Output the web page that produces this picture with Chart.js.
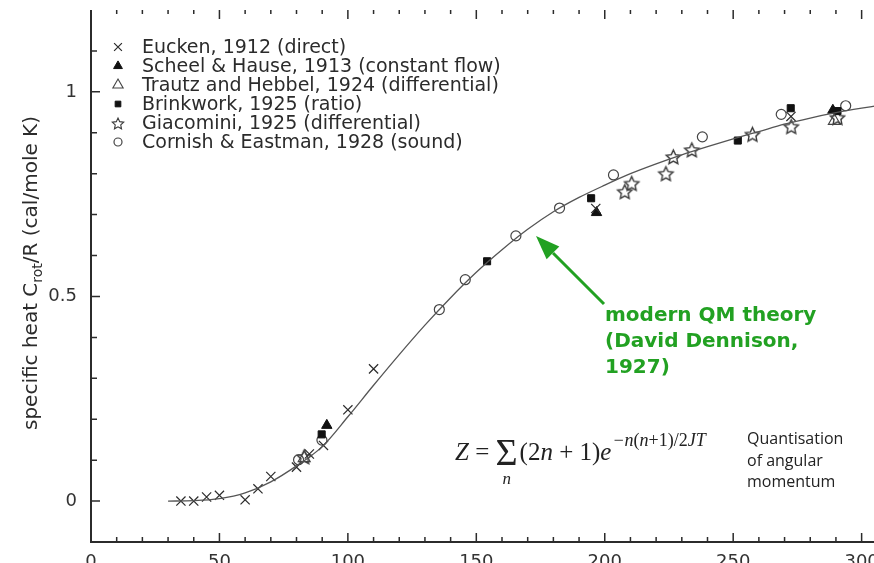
<!DOCTYPE html>
<html>
<head>
<meta charset="utf-8">
<script src="https://cdn.jsdelivr.net/npm/chart.js@4.4.1/dist/chart.umd.min.js"></script>
<style>
  html, body { margin: 0; padding: 0; background: #fff; overflow: hidden; }
  #wrap { width: 940px; height: 620px; }
</style>
</head>
<body>
<div id="wrap"><canvas id="c" width="940" height="620"></canvas></div>
<script>
// values: temperature (K) and C_rot/R
const euckenT = [35, 40, 45, 50, 60, 65, 70, 80, 85, 90.5, 100, 110, 196.5, 272.5];
const euckenC = [0, 0, 0.01, 0.014, 0.003, 0.03, 0.06, 0.083, 0.115, 0.136, 0.223, 0.323, 0.715, 0.94];

const scheelT = [91.8, 196.8, 288.8];
const scheelC = [0.185, 0.705, 0.955];

const trautzT = [83, 289.4];
const trautzC = [0.105, 0.929];

const brinkT = [89.8, 154.2, 194.7, 251.8, 272.4, 290.6];
const brinkC = [0.163, 0.586, 0.74, 0.881, 0.96, 0.953];

const giacT = [83, 207.8, 210.5, 223.8, 226.7, 233.9, 257.5, 272.6, 290.6];
const giacC = [0.109, 0.757, 0.777, 0.801, 0.842, 0.859, 0.897, 0.916, 0.938];

const cornishT = [80.8, 89.9, 135.6, 145.7, 165.4, 182.4, 203.4, 238, 268.7, 293.8];
const cornishC = [0.101, 0.149, 0.468, 0.541, 0.648, 0.716, 0.797, 0.89, 0.945, 0.966];

// Dennison curve
const theoryT = [30, 40, 50, 60, 70, 80, 90, 100, 110, 120, 130, 140, 150, 160, 170, 180, 190, 200, 210, 220, 230, 240, 250, 260, 270, 280, 290, 300, 305];
const theoryC = [0, 0.001, 0.006, 0.02, 0.047, 0.086, 0.133, 0.206, 0.283, 0.358, 0.43, 0.497, 0.559, 0.614, 0.664, 0.707, 0.742, 0.772, 0.8, 0.824, 0.846, 0.866, 0.885, 0.903, 0.921, 0.936, 0.949, 0.96, 0.965];

const legendNames = [
    'Eucken, 1912 (direct)',
    'Scheel & Hause, 1913 (constant flow)',
    'Trautz and Hebbel, 1924 (differential)',
    'Brinkwork, 1925 (ratio)',
    'Giacomini, 1925 (differential)',
    'Cornish & Eastman, 1928 (sound)',
];
const xLabelValues = [0, 50, 100, 150, 200, 250, 300];
const yLabelValues = [0, 0.5, 1];

const ink = '#2b2b2b';
const green = '#22a122';

function pts(xs, ys) { return xs.map((v, i) => ({ x: v, y: ys[i] })); }

function makeStar(r, lw) {
    const s = Math.ceil(r * 2 + 4);
    const c = document.createElement('canvas');
    c.width = c.height = s;
    const g = c.getContext('2d');
    g.translate(s / 2, s / 2 + 1);
    g.beginPath();
    for (let i = 0; i < 10; i++) {
        const rr = i % 2 ? r * 0.48 : r;
        const a = -Math.PI / 2 + i * Math.PI / 5;
        g.lineTo(rr * Math.cos(a), rr * Math.sin(a));
    }
    g.closePath();
    g.strokeStyle = '#3a3a3a';
    g.lineWidth = lw;
    g.stroke();
    return c;
}
const starImg = makeStar(7.5, 1.4);
const starSmall = makeStar(6, 1.1);

const series = [
    { data: pts(euckenT, euckenC),   pointStyle: 'crossRot', pointRadius: 6.5, borderColor: ink, backgroundColor: ink, borderWidth: 1.2 },
    { data: pts(scheelT, scheelC),   pointStyle: 'triangle', pointRadius: 6,   borderColor: '#111', backgroundColor: '#111', borderWidth: 1 },
    { data: pts(trautzT, trautzC),   pointStyle: 'triangle', pointRadius: 7,   borderColor: '#444', backgroundColor: 'rgba(255,255,255,0)', borderWidth: 1.1 },
    { data: pts(brinkT, brinkC),     pointStyle: 'rect',     pointRadius: 5,   borderColor: '#111', backgroundColor: '#111', borderWidth: 1 },
    { data: pts(giacT, giacC),       pointStyle: starImg,    pointRadius: 7,   borderColor: '#3a3a3a', backgroundColor: 'rgba(0,0,0,0)', borderWidth: 1 },
    { data: pts(cornishT, cornishC), pointStyle: 'circle',   pointRadius: 5,   borderColor: '#444', backgroundColor: 'rgba(255,255,255,0)', borderWidth: 1.2 },
];

const datasets = series.map((s, i) => Object.assign({ label: legendNames[i], showLine: false }, s));
datasets.unshift({
    label: 'theory',
    data: pts(theoryT, theoryC),
    showLine: true,
    pointRadius: 0,
    borderColor: '#555',
    borderWidth: 1.3,
    cubicInterpolationMode: 'monotone',
});

function drawSeq(ctx, parts, x, base) {
    for (const p of parts) {
        ctx.font = p.font;
        ctx.fillText(p.t, x, base + (p.dy || 0));
        x += ctx.measureText(p.t).width;
    }
    return x;
}

const decor = {
    id: 'decor',
    afterDraw(chart) {
        const { ctx, chartArea: a, scales: { x, y } } = chart;
        ctx.save();

        // axis frame (left + bottom) and inward ticks
        ctx.strokeStyle = ink;
        ctx.lineWidth = 2;
        ctx.beginPath();
        ctx.moveTo(a.left, a.top);
        ctx.lineTo(a.left, a.bottom);
        ctx.lineTo(a.right, a.bottom);
        ctx.stroke();

        ctx.lineWidth = 1.5;
        ctx.beginPath();
        x.ticks.forEach(t => {
            if (t.value <= 0) return;
            const px = x.getPixelForValue(t.value);
            const major = t.value % 50 === 0;
            ctx.moveTo(px, a.bottom); ctx.lineTo(px, a.bottom - (major ? 9 : 5));
            ctx.moveTo(px, a.top);    ctx.lineTo(px, a.top + (major ? 9 : 4));
        });
        y.ticks.forEach(t => {
            const k = Math.round(t.value * 10);
            if (k <= -1 || k >= 12) return;
            const py = y.getPixelForValue(t.value);
            ctx.moveTo(a.left, py); ctx.lineTo(a.left + (k % 5 === 0 ? 9 : 6), py);
        });
        ctx.stroke();

        // legend
        ctx.fillStyle = ink;
        ctx.textAlign = 'left';
        ctx.textBaseline = 'alphabetic';
        series.forEach((s, i) => {
            const base = 53 + i * 19;
            ctx.save();
            ctx.strokeStyle = s.borderColor;
            ctx.fillStyle = s.backgroundColor;
            ctx.lineWidth = s.borderWidth;
            const style = s.pointStyle === starImg ? starSmall : s.pointStyle;
            const r = s.pointStyle === 'circle' ? 4 : s.pointStyle === 'rect' ? 4 : s.pointRadius * 0.85;
            Chart.helpers.drawPoint(ctx, { pointStyle: style, radius: r, rotation: 0, borderWidth: s.borderWidth }, 118, base - 6);
            ctx.restore();
            ctx.font = '19px "DejaVu Sans"';
            ctx.fillText(legendNames[i], 142, base);
        });

        // y axis title with subscript
        ctx.save();
        ctx.translate(37, 273);
        ctx.rotate(-Math.PI / 2);
        const tParts = [
            { t: 'specific heat C', font: '20px "DejaVu Sans"' },
            { t: 'rot', font: '14px "DejaVu Sans"', dy: 5 },
            { t: '/R (cal/mole K)', font: '20px "DejaVu Sans"' },
        ];
        let w = 0;
        tParts.forEach(p => { ctx.font = p.font; w += ctx.measureText(p.t).width; });
        drawSeq(ctx, tParts, -w / 2, 0);
        ctx.restore();

        // partition function
        ctx.fillStyle = '#222';
        const serif = '"Liberation Serif"';
        let fx = drawSeq(ctx, [
            { t: 'Z', font: `italic 25px ${serif}` },
            { t: ' = ', font: `25px ${serif}` },
        ], 455, 460);
        ctx.font = `38px ${serif}`;
        const sigW = ctx.measureText('\u03A3').width;
        ctx.fillText('\u03A3', fx, 465);
        ctx.font = `italic 17px ${serif}`;
        ctx.fillText('n', fx + sigW / 2 - 4, 484);
        fx += sigW + 2;
        fx = drawSeq(ctx, [
            { t: '(2', font: `25px ${serif}` },
            { t: 'n', font: `italic 25px ${serif}` },
            { t: ' + 1)', font: `25px ${serif}` },
            { t: 'e', font: `italic 25px ${serif}` },
        ], fx, 460);
        drawSeq(ctx, [
            { t: '\u2212n', font: `italic 18px ${serif}` },
            { t: '(', font: `18px ${serif}` },
            { t: 'n', font: `italic 18px ${serif}` },
            { t: '+1)/2', font: `18px ${serif}` },
            { t: 'JT', font: `italic 18px ${serif}` },
        ], fx + 1, 446);

        // side note
        ctx.fillStyle = '#222';
        ctx.font = '16px "Open Sans"';
        ['Quantisation', 'of angular', 'momentum'].forEach((s, i) => ctx.fillText(s, 747, 444 + i * 21.5));

        // green annotation
        ctx.strokeStyle = green;
        ctx.fillStyle = green;
        ctx.lineWidth = 3;
        const tip = { x: 536, y: 236 }, tail = { x: 604, y: 304 };
        const ang = Math.atan2(tail.y - tip.y, tail.x - tip.x);
        const hl = 24, hw = 9;
        const bx = tip.x + Math.cos(ang) * hl, by = tip.y + Math.sin(ang) * hl;
        ctx.beginPath();
        ctx.moveTo(bx, by); ctx.lineTo(tail.x, tail.y);
        ctx.stroke();
        ctx.beginPath();
        ctx.moveTo(tip.x, tip.y);
        ctx.lineTo(bx - Math.sin(ang) * hw, by + Math.cos(ang) * hw);
        ctx.lineTo(bx + Math.sin(ang) * hw, by - Math.cos(ang) * hw);
        ctx.closePath();
        ctx.fill();
        ctx.font = 'bold 20px "DejaVu Sans"';
        ['modern QM theory', '(David Dennison,', '1927)'].forEach((s, i) => ctx.fillText(s, 605, 321 + i * 26));

        ctx.restore();
    }
};

new Chart(document.getElementById('c'), {
    type: 'scatter',
    data: { datasets },
    options: {
        responsive: false,
        animation: false,
        events: [],
        layout: { padding: { top: 10, right: 27, left: 0, bottom: 0 } },
        plugins: { legend: { display: false }, tooltip: { enabled: false } },
        scales: {
            x: {
                type: 'linear', min: 0, max: 320,
                grid: { display: false, drawTicks: false },
                border: { display: false },
                afterFit: s => { s.height = 78; s.paddingLeft = 0; s.paddingRight = 0; },
                ticks: {
                    stepSize: 10, autoSkip: false, maxRotation: 0, padding: 10,
                    color: '#333', font: { family: 'DejaVu Sans', size: 18 },
                    callback: v => xLabelValues.includes(v) ? String(v) : '',
                },
            },
            y: {
                type: 'linear', min: -0.1, max: 1.2,
                grid: { display: false, drawTicks: false },
                border: { display: false },
                afterFit: s => { s.width = 91; s.paddingTop = 0; s.paddingBottom = 0; },
                ticks: {
                    stepSize: 0.1, autoSkip: false, padding: 14,
                    color: '#333', font: { family: 'DejaVu Sans', size: 18 },
                    callback: v => {
                        const hit = yLabelValues.find(l => Math.abs(l - v) < 1e-6);
                        return hit === undefined ? '' : String(hit);
                    },
                },
            },
        },
    },
    plugins: [decor],
});
</script>
</body>
</html>
